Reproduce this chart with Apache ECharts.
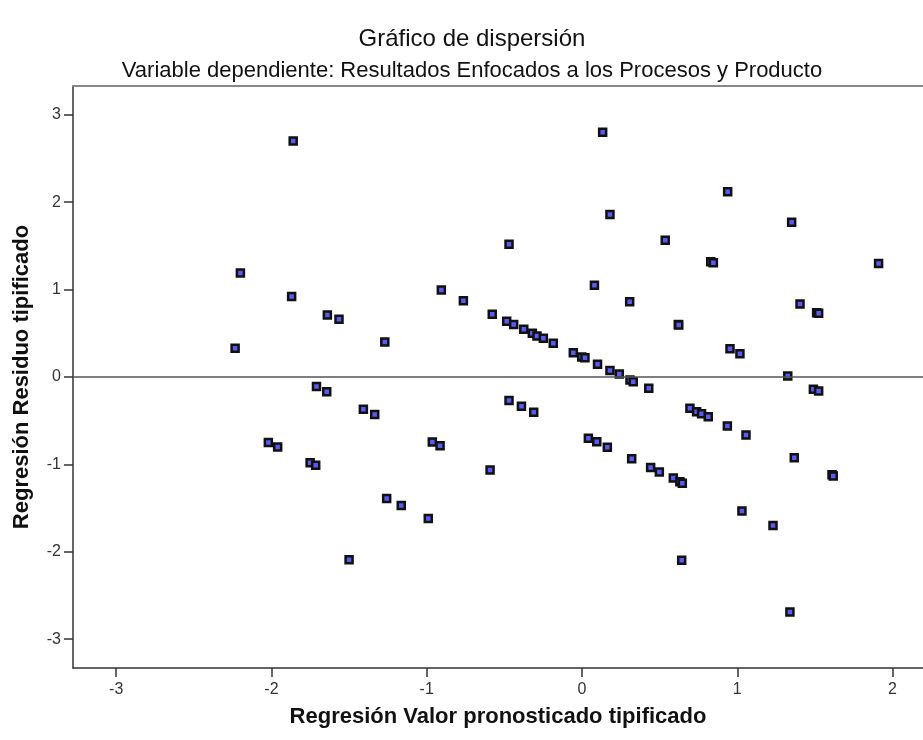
<!DOCTYPE html>
<html>
<head>
<meta charset="utf-8">
<script src="https://cdn.jsdelivr.net/npm/echarts@6/dist/echarts.min.js"></script>
<style>
  html, body { margin: 0; padding: 0; background: #fff; }
  #main { width: 923px; height: 740px; }
</style>
</head>
<body>
<div id="main"></div>
<script>
// valor pronosticado tipificado (x) / residuo tipificado (y)
var predicted = [
  -2.234, -2.20, -1.86, -1.87, -2.02, -1.96, -1.71, -1.644, -1.64, -1.565,
  -1.27, -1.408, -1.335, -1.751, -1.715, -1.258, -1.164, -0.99, -1.50, -0.906,
  -0.764, -0.964, -0.914, -0.592, -0.578, -0.47, -0.485, -0.44, -0.375, -0.32,
  -0.29, -0.249, -0.185, -0.47, -0.39, -0.311, -0.056, -0.002, 0.019, 0.10,
  0.18, 0.24, 0.309, 0.33, 0.43, 0.133, 0.18, 0.08, 0.307, 0.041,
  0.095, 0.163, 0.32, 0.442, 0.498, 0.588, 0.63, 0.646, 0.642, 0.536,
  0.62, 0.623, 0.695, 0.738, 0.77, 0.813, 0.936, 1.056, 0.829, 0.846,
  0.938, 0.953, 1.017, 1.03, 1.23, 1.325, 1.35, 1.367, 1.339, 1.404,
  1.511, 1.524, 1.49, 1.524, 1.61, 1.618, 1.91
];
var residual = [
  0.33, 1.19, 2.70, 0.92, -0.75, -0.80, -0.11, -0.17, 0.71, 0.66,
  0.40, -0.37, -0.43, -0.98, -1.01, -1.39, -1.47, -1.62, -2.09, 0.995,
  0.873, -0.744, -0.786, -1.064, 0.717, 1.52, 0.637, 0.60, 0.546, 0.50,
  0.47, 0.443, 0.385, -0.27, -0.336, -0.404, 0.278, 0.23, 0.22, 0.145,
  0.075, 0.034, -0.034, -0.054, -0.13, 2.80, 1.86, 1.05, 0.862, -0.70,
  -0.74, -0.805, -0.935, -1.037, -1.087, -1.156, -1.20, -1.217, -2.097, 1.564,
  0.60, 0.595, -0.358, -0.397, -0.42, -0.454, -0.561, -0.664, 1.32, 1.308,
  2.12, 0.324, 0.267, -1.533, -1.70, 0.011, 1.77, -0.923, -2.689, 0.835,
  0.736, 0.729, -0.141, -0.16, -1.12, -1.133, 1.30
];
var xTicks = [-3, -2, -1, 0, 1, 2];
var yTicks = [-3, -2, -1, 0, 1, 2, 3];

var points = [];
for (var i = 0; i < predicted.length; i++) {
  points.push([predicted[i], residual[i]]);
}

var chart = echarts.init(document.getElementById('main'));
var font = 'Liberation Sans, Arial, sans-serif';

var option = {
  backgroundColor: '#fff',
  animation: false,
  textStyle: { fontFamily: font },
  title: [
    {
      text: 'Gráfico de dispersión',
      left: 467, top: 22, textAlign: 'center',
      textStyle: { fontSize: 24, fontWeight: 'normal', color: '#111', fontFamily: font }
    },
    {
      text: 'Variable dependiente: Resultados Enfocados a los Procesos y Producto',
      left: 467, top: 55, textAlign: 'center',
      textStyle: { fontSize: 22, fontWeight: 'normal', color: '#111', fontFamily: font }
    }
  ],
  grid: { left: 73, top: 86, right: 0, bottom: 72, containLabel: false, outerBoundsMode: 'none' },
  xAxis: [
    {
      type: 'value',
      min: -3.278, max: 2.196,
      name: 'Regresión Valor pronosticado tipificado',
      nameLocation: 'middle',
      nameGap: 38,
      nameTextStyle: { fontSize: 22, fontWeight: 'bold', color: '#111' },
      axisLine: { show: true, onZero: false, lineStyle: { color: '#333', width: 1.5 } },
      axisTick: { show: true, length: 9, customValues: xTicks, lineStyle: { color: '#333', width: 1.5 } },
      axisLabel: { customValues: xTicks, fontSize: 16, color: '#333', margin: 14 },
      splitLine: { show: false }
    },
    {
      type: 'value',
      position: 'top',
      min: -3.278, max: 2.196,
      axisLine: { show: true, onZero: false, lineStyle: { color: '#888', width: 2 } },
      axisTick: { show: false },
      axisLabel: { show: false },
      splitLine: { show: false }
    }
  ],
  yAxis: {
    type: 'value',
    min: -3.33, max: 3.33,
    name: 'Regresión Residuo tipificado',
    nameLocation: 'middle',
    nameGap: 40,
    nameTextStyle: { fontSize: 22, fontWeight: 'bold', color: '#111' },
    axisLine: { show: true, onZero: false, lineStyle: { color: '#333', width: 1.5 } },
    axisTick: { show: true, length: 9, customValues: yTicks, lineStyle: { color: '#333', width: 1.5 } },
    axisLabel: { customValues: yTicks, fontSize: 16, color: '#333', margin: 12 },
    splitLine: { show: false }
  },
  series: [
    {
      type: 'scatter',
      data: points,
      symbol: 'rect',
      symbolSize: 7,
      itemStyle: { color: '#5a5af5', borderColor: '#111', borderWidth: 2.5, opacity: 1 },
      markLine: {
        silent: true,
        symbol: 'none',
        label: { show: false },
        lineStyle: { color: '#555', width: 1.5, type: 'solid' },
        data: [{ yAxis: 0 }]
      }
    }
  ]
};
chart.setOption(option);
</script>
</body>
</html>
